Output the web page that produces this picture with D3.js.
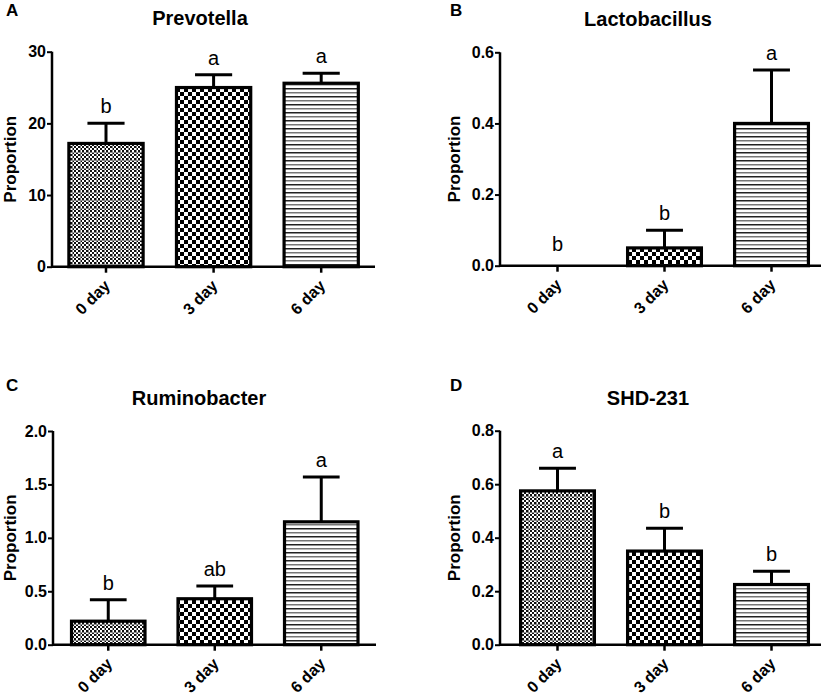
<!DOCTYPE html>
<html>
<head>
<meta charset="utf-8">
<script src="https://cdn.jsdelivr.net/npm/d3@7"></script>
<style>
  html, body { margin: 0; padding: 0; background: #fff; }
  svg { display: block; font-family: "Liberation Sans", Arial, sans-serif; }
</style>
</head>
<body>
<svg id="chart" width="827" height="699"></svg>
<script>
// ---- data ----
const categories = ["0 day", "3 day", "6 day"];

const prevotellaMean = [17.2, 25.0, 25.6];
const prevotellaErr  = [2.8, 1.8, 1.4];
const prevotellaLetters = ["b", "a", "a"];
const prevotellaTicks = [0, 10, 20, 30];

const lactobacillusMean = [0, 0.05, 0.40];
const lactobacillusErr  = [0, 0.05, 0.15];
const lactobacillusLetters = ["b", "b", "a"];
const lactobacillusTicks = [0, 0.2, 0.4, 0.6];

const ruminobacterMean = [0.22, 0.43, 1.15];
const ruminobacterErr  = [0.20, 0.12, 0.42];
const ruminobacterLetters = ["b", "ab", "a"];
const ruminobacterTicks = [0, 0.5, 1.0, 1.5, 2.0];

const shd231Mean = [0.575, 0.35, 0.225];
const shd231Err  = [0.085, 0.085, 0.05];
const shd231Letters = ["a", "b", "b"];
const shd231Ticks = [0, 0.2, 0.4, 0.6, 0.8];

const panelLabels = ["A", "B", "C", "D"];
const panelTitles = ["Prevotella", "Lactobacillus", "Ruminobacter", "SHD-231"];
const yTitle = "Proportion";

// ---- layout ----
const layout = [
  {axL: 52,  axR: 375, bandL: 52.2, bandR: 375,   top: 51.7,  bottom: 266.7, titleX: 200, titleY: 25,  labX: 6,   labY: 16,  fmt: "d"},
  {axL: 500, axR: 821, bandL: 504,  bandR: 825,   top: 52.3,  bottom: 265.7, titleX: 648, titleY: 26,  labX: 450, labY: 16,  fmt: ".1f"},
  {axL: 53,  axR: 376, bandL: 55,   bandR: 374.5, top: 431,   bottom: 644.7, titleX: 199, titleY: 405, labX: 6,   labY: 391, fmt: ".1f"},
  {axL: 500, axR: 821, bandL: 504,  bandR: 825,   top: 430.7, bottom: 644.7, titleX: 648, titleY: 405, labX: 450, labY: 391, fmt: ".1f"}
];

const panelData = [
  {mean: prevotellaMean, err: prevotellaErr, letters: prevotellaLetters, ticks: prevotellaTicks},
  {mean: lactobacillusMean, err: lactobacillusErr, letters: lactobacillusLetters, ticks: lactobacillusTicks},
  {mean: ruminobacterMean, err: ruminobacterErr, letters: ruminobacterLetters, ticks: ruminobacterTicks},
  {mean: shd231Mean, err: shd231Err, letters: shd231Letters, ticks: shd231Ticks}
];

const svg = d3.select("#chart");
const FONT = "Liberation Sans, Arial, sans-serif";

// ---- patterns ----
const defs = svg.append("defs");
// fine checker with gray grid (0 day)
const p0 = defs.append("pattern").attr("id", "pat0").attr("patternUnits", "userSpaceOnUse")
  .attr("width", 8).attr("height", 8);
p0.append("rect").attr("width", 8).attr("height", 8).attr("fill", "#fff");
for (let i = 0; i < 4; i++) for (let j = 0; j < 4; j++) {
  if ((i + j) % 2 === 0) p0.append("rect").attr("x", i * 2).attr("y", j * 2).attr("width", 2).attr("height", 2).attr("fill", "#111");
}
p0.append("rect").attr("x", 0).attr("y", 0).attr("width", 8).attr("height", 1).attr("fill", "#8a8a8a");
p0.append("rect").attr("x", 0).attr("y", 0).attr("width", 1).attr("height", 8).attr("fill", "#8a8a8a");
// coarse checker (3 day)
const p1 = defs.append("pattern").attr("id", "pat1").attr("patternUnits", "userSpaceOnUse")
  .attr("width", 8).attr("height", 8);
p1.append("rect").attr("width", 8).attr("height", 8).attr("fill", "#fff");
p1.append("rect").attr("x", 0).attr("y", 0).attr("width", 4).attr("height", 4).attr("fill", "#000");
p1.append("rect").attr("x", 4).attr("y", 4).attr("width", 4).attr("height", 4).attr("fill", "#000");
// horizontal lines (6 day)
const p2 = defs.append("pattern").attr("id", "pat2").attr("patternUnits", "userSpaceOnUse")
  .attr("width", 8).attr("height", 8);
p2.append("rect").attr("width", 8).attr("height", 8).attr("fill", "#fff");
p2.append("rect").attr("x", 0).attr("y", 0).attr("width", 8).attr("height", 1.5).attr("fill", "#222");
p2.append("rect").attr("x", 0).attr("y", 4).attr("width", 8).attr("height", 1.5).attr("fill", "#777");
const patterns = ["url(#pat0)", "url(#pat1)", "url(#pat2)"];

// ---- panels ----
layout.forEach((L, pi) => {
  const D = panelData[pi];
  const g = svg.append("g");

  const x = d3.scaleBand().domain(categories).range([L.bandL, L.bandR])
    .paddingInner(0.31).paddingOuter(0.155);
  const y = d3.scaleLinear().domain([0, d3.max(D.ticks)]).range([L.bottom, L.top]);

  // panel letter
  g.append("text").attr("x", L.labX).attr("y", L.labY)
    .attr("font-size", 17).attr("font-weight", "bold").text(panelLabels[pi]);
  // title
  g.append("text").attr("x", L.titleX).attr("y", L.titleY).attr("text-anchor", "middle")
    .attr("font-size", 20).attr("font-weight", "bold").text(panelTitles[pi]);
  // y title
  g.append("text")
    .attr("transform", `translate(${L.labX + 10},${(L.top + L.bottom) / 2}) rotate(-90)`)
    .attr("text-anchor", "middle").attr("font-size", 17).attr("font-weight", "bold").text(yTitle);

  const rows = categories.map((c, i) => ({c, m: D.mean[i], e: D.err[i], l: D.letters[i], i}));

  // bars
  g.selectAll("rect.bar").data(rows.filter(d => d.m > 0)).join("rect")
    .attr("class", "bar")
    .attr("x", d => x(d.c)).attr("width", x.bandwidth())
    .attr("y", d => y(d.m)).attr("height", d => y(0) - y(d.m))
    .attr("fill", d => patterns[d.i])
    .attr("stroke", "#000").attr("stroke-width", 3.2);

  // error bars
  const eb = g.selectAll("g.err").data(rows.filter(d => d.e > 0)).join("g").attr("class", "err");
  eb.append("line")
    .attr("x1", d => x(d.c) + x.bandwidth() / 2).attr("x2", d => x(d.c) + x.bandwidth() / 2)
    .attr("y1", d => y(d.m)).attr("y2", d => y(d.m + d.e))
    .attr("stroke", "#000").attr("stroke-width", 3);
  eb.append("line")
    .attr("x1", d => x(d.c) + x.bandwidth() * 0.25).attr("x2", d => x(d.c) + x.bandwidth() * 0.75)
    .attr("y1", d => y(d.m + d.e)).attr("y2", d => y(d.m + d.e))
    .attr("stroke", "#000").attr("stroke-width", 3);

  // significance letters
  g.selectAll("text.sig").data(rows).join("text").attr("class", "sig")
    .attr("x", d => x(d.c) + x.bandwidth() / 2)
    .attr("y", d => Math.min(y(d.m + d.e) - 10, y(0) - 15))
    .attr("text-anchor", "middle").attr("font-size", 20).text(d => d.l);

  // y axis
  const yAxis = d3.axisLeft(y).tickValues(D.ticks).tickFormat(d3.format(L.fmt))
    .tickSize(5).tickSizeOuter(0);
  const ya = g.append("g").attr("transform", `translate(${L.axL},0)`).call(yAxis)
    .attr("font-size", 16).attr("font-family", FONT).attr("font-weight", "bold");
  ya.select(".domain").attr("stroke-width", 2.5).attr("d", `M0,${L.bottom}V${L.top}`);
  ya.selectAll(".tick line").attr("stroke-width", 2);
  ya.selectAll(".tick text").attr("fill", "#000").attr("x", -6);

  // x axis
  const xAxis = d3.axisBottom(x).tickSize(6).tickSizeOuter(0);
  const xa = g.append("g").attr("transform", `translate(0,${L.bottom})`).call(xAxis)
    .attr("font-size", 16).attr("font-family", FONT).attr("font-weight", "bold");
  xa.select(".domain").attr("stroke-width", 2.5).attr("d", `M${L.axL - 1},0H${L.axR}`);
  xa.selectAll(".tick line").attr("stroke-width", 2.5);
  xa.selectAll(".tick text")
    .attr("fill", "#000")
    .attr("text-anchor", "end").attr("y", 0).attr("dy", 0)
    .attr("transform", "translate(5,20) rotate(-45)");
});
</script>
</body>
</html>
